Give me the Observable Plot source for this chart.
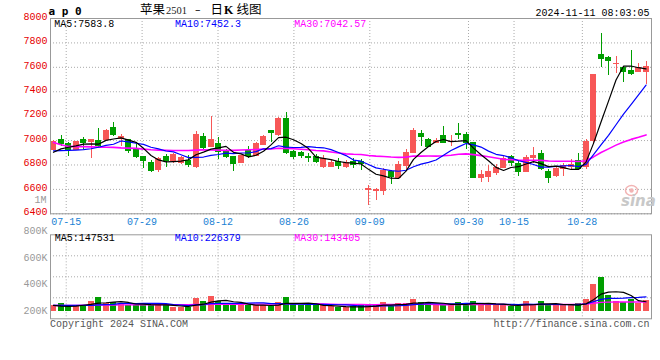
<!DOCTYPE html>
<html><head><meta charset="utf-8">
<script src="https://cdn.jsdelivr.net/npm/d3@7"></script>
<script src="https://cdn.jsdelivr.net/npm/@observablehq/plot@0.6"></script>
<style>
body{margin:0;background:#fff;}
#wrap{position:relative;width:660px;height:360px;overflow:hidden;background:#fff;}
#wrap svg{position:absolute;left:0;display:block;}
</style></head><body><div id="wrap"></div>
<script>
// ---- data ----
const opens = [6925,7005,6970,6924,7005,6989,7000,7005,7100,7016,
  7003,6924,6869,6817,6760,6863,6830,6814,6836,6781,
  7028,6945,6970,6915,6863,6820,6918,6877,6967,7082,
  7049,7180,6910,6896,6866,6869,6787,6787,6822,6787,
  6824,6824,6592,6588,6587,6740,6695,6795,6900,7057,
  7003,6978,7038,6986,7051,7046,6978,6690,6703,6733,
  6776,6864,6809,6744,6858,6888,6746,6711,6768,6782,
  6836,6787,6995,7701,7674,7625,7592,7570,7565,7565];
const highs = [7000,7045,6986,6995,7022,7005,7100,7088,7150,7050,
  7008,6965,6872,6836,6863,6883,6896,6870,6877,7074,
  7060,7200,7027,6925,6870,6880,6950,6986,7040,7085,
  7190,7230,6920,6912,6890,6885,6875,6836,6850,6836,
  6857,6843,6630,6605,6770,6755,6825,6930,7100,7080,
  7020,7019,7119,7038,7140,7070,6980,6757,6797,6800,
  6875,6875,6828,6880,6943,6915,6760,6787,6814,6842,
  6896,7005,7540,7878,7690,7687,7610,7734,7633,7646];
const lows = [6920,6951,6868,6920,6930,6852,6945,6995,7030,6950,
  6896,6855,6768,6739,6740,6781,6814,6805,6781,6775,
  6915,6940,6845,6850,6750,6810,6850,6870,6960,6986,
  7033,6885,6847,6855,6817,6810,6775,6780,6765,6775,
  6770,6757,6470,6508,6550,6640,6690,6760,6892,6951,
  6940,6973,6978,6951,7005,6924,6690,6660,6654,6714,
  6768,6787,6705,6735,6814,6755,6645,6700,6705,6765,
  6760,6765,6980,7600,7537,7546,7475,7529,7557,7456];
const closes = [6990,6970,6924,6989,6978,7005,6955,7082,7043,7027,
  6913,6863,6836,6748,6847,6830,6880,6855,6803,7049,
  6940,7003,6905,6865,6805,6877,6877,6973,7033,7062,
  7174,6896,6869,6875,6860,6822,6845,6820,6795,6814,
  6803,6808,6600,6595,6750,6705,6797,6900,7078,7032,
  6951,7000,6984,6992,7046,6978,6690,6714,6746,6773,
  6850,6814,6746,6855,6875,6765,6692,6768,6793,6798,
  6765,6992,7537,7668,7652,7630,7559,7546,7597,7605];
const volumesK = [89,125,89,89,73,156,218,125,140,104,
  94,99,115,104,89,89,62,62,62,203,
  156,229,156,99,99,104,89,89,89,73,
  140,214,99,89,89,89,89,73,53,53,
  73,89,89,89,136,73,120,120,183,136,
  125,89,89,89,136,120,151,89,120,89,
  104,73,73,151,104,151,89,89,89,89,
  120,183,420,520,245,151,136,175,115,160];
// moving-average values before the first visible day
const ma5Lead  = [6904,6932,6945,6956];
const ma10Lead = [6915,6918,6920,6922,6925,6933,6945,6960,6970];
const ma30Lead = [6985,6965,6952,6950,6950,6948,6946,6945,6944,6940,6938,6936,6930,6925,6922,
  6920,6919,6919,6919,6922,6924,6923,6922,6920,6920,6923,6925,6927,6930];
const vma5Lead  = [90,80,75,78];
const vma10Lead = [90,90,90,90,90,92,98,102,105];
const vma30Lead = [90,90,91,91,92,93,95,96,97,98,99,100,101,101,102,102,102,102,103,104,
  105,106,107,108,108,109,110,110,111];
const tickLabels = ["07-15","07-29","08-12","08-26","09-09","09-30","10-15","10-28"];
const tickIndex  = [2,12,22,32,42,55,61,70];
const priceTicks = [6400,6600,6800,7000,7200,7400,7600,7800,8000];
const volTickLabels = ["800K","600K","400K","200K"];
const volTickValues = [800000,600000,400000,200000];

// ---- build ----
const RED = "#f75757", GREEN = "#009e00";
const candles = closes.map((c, i) => ({i, open: opens[i], high: highs[i], low: lows[i], close: c,
  vol: volumesK[i] * 1000, color: c >= opens[i] ? RED : GREEN}));
function movingAvg(arr, n, lead) {
  return arr.map((_, i) => ({i, v: i >= n - 1 ? d3.mean(arr.slice(i - n + 1, i + 1)) : lead[i]}));
}
const ma5 = movingAvg(closes, 5, ma5Lead), ma10 = movingAvg(closes, 10, ma10Lead), ma30 = movingAvg(closes, 30, ma30Lead);
const vols = volumesK.map(v => v * 1000);
const k1000 = a => a.map(v => v * 1000);
const vma5 = movingAvg(vols, 5, k1000(vma5Lead)), vma10 = movingAvg(vols, 10, k1000(vma10Lead)), vma30 = movingAvg(vols, 30, k1000(vma30Lead));
// date grid lines sit on a slightly wider spacing than the candles in the original
const gridPos = idx => idx * 1.012 - 0.33;
const ticks = tickLabels.map((label, j) => ({label, x: gridPos(tickIndex[j])}));
const xDomain = [-0.4, 79.73];
const font = {fontFamily: "'Liberation Mono', monospace", fontSize: "10px", background: "transparent", overflow: "visible"};
const grid = {stroke: "#aaa", strokeDasharray: "1,2", strokeOpacity: 1};

const main = Plot.plot({
  width: 660, height: 226, marginLeft: 50, marginRight: 9, marginTop: 18, marginBottom: 12.7,
  x: {domain: xDomain, axis: null}, y: {domain: [6400, 8000], axis: null},
  color: {type: "identity"}, style: font,
  marks: [
    Plot.ruleY(priceTicks, grid),
    Plot.ruleX(ticks, {x: "x", ...grid}),
    Plot.ruleX(candles, {x: "i", y1: "low", y2: "high", stroke: "color", shapeRendering: "crispEdges"}),
    Plot.rect(candles, {x1: d => d.i - 0.4, x2: d => d.i + 0.4, y1: "open", y2: "close", fill: "color",
      insetTop: -0.5, insetBottom: -0.5, shapeRendering: "crispEdges"}),
    Plot.line(ma30, {x: "i", y: "v", stroke: "#ff00ff", strokeWidth: 1.6}),
    Plot.line(ma10, {x: "i", y: "v", stroke: "#0000ff", strokeWidth: 1.2}),
    Plot.line(ma5, {x: "i", y: "v", stroke: "#000", strokeWidth: 1.2}),
    Plot.frame({stroke: "#999"}),
    Plot.axisY(priceTicks, {tickSize: 0, tickPadding: 3, color: "#e60000", dy: -2, tickFormat: d => String(d)}),
    Plot.text(ticks, {x: "x", y: 6400, text: "label", dy: 8, fill: "#1a82d4"})
  ]
});

// volume panel: bars rise from zero; grid splits the panel in quarters
const volHi = 1191840, volLo = -118560;
const volGrid = [1, 2, 3].map(q => volLo + q * (volHi - volLo) / 4);
const volLabelPos = d3.scaleLinear().domain([200000, 800000]).range([10900, 1248000]);
const volLabels = volTickLabels.map((label, j) => ({label, y: volLabelPos(volTickValues[j])}));
const vol = Plot.plot({
  width: 660, height: 134, marginLeft: 50, marginRight: 9, marginTop: 8.3, marginBottom: 41.7,
  x: {domain: xDomain, axis: null}, y: {domain: [volLo, volHi], axis: null},
  color: {type: "identity"}, style: font,
  marks: [
    Plot.ruleY(volGrid, grid),
    Plot.ruleX(ticks, {x: "x", ...grid}),
    Plot.rect(candles, {x1: d => d.i - 0.4, x2: d => d.i + 0.4, y1: 0, y2: "vol", fill: "color", shapeRendering: "crispEdges"}),
    Plot.line(vma30, {x: "i", y: "v", stroke: "#ff00ff", strokeWidth: 1.4}),
    Plot.line(vma10, {x: "i", y: "v", stroke: "#0000ff", strokeWidth: 1.2}),
    Plot.line(vma5, {x: "i", y: "v", stroke: "#000", strokeWidth: 1.2}),
    Plot.frame({stroke: "#999"}),
    Plot.text(volLabels, {y: "y", text: "label", frameAnchor: "left", textAnchor: "end", dx: -3, fill: "#999"})
  ]
});

const wrap = document.getElementById("wrap");
main.style.top = "0px";
vol.style.top = "226px";
wrap.append(main, vol);

// ---- texts (title, legends, footer) ----
const ns = "http://www.w3.org/2000/svg";
const ov = document.createElementNS(ns, "svg");
ov.setAttribute("width", 660); ov.setAttribute("height", 360);
ov.style.top = "0px"; ov.style.pointerEvents = "none";
wrap.append(ov);
const MONO = "'Liberation Mono', monospace";
function txt(s, x, y, o = {}) {
  const t = document.createElementNS(ns, "text");
  t.textContent = s;
  t.setAttribute("x", x); t.setAttribute("y", y);
  t.setAttribute("font-family", o.family || MONO);
  t.setAttribute("font-size", o.size || 10);
  t.setAttribute("fill", o.fill || "#000");
  if (o.anchor) t.setAttribute("text-anchor", o.anchor);
  if (o.weight) t.setAttribute("font-weight", o.weight);
  if (o.style) t.setAttribute("font-style", o.style);
  ov.append(t);
  return t;
}
txt("a p 0", 48.5, 15, {family: "'DejaVu Sans Mono', monospace", size: 11, weight: "bold"});
const CJK = "'Noto Sans CJK SC', sans-serif";
txt("苹果", 140, 13.5, {family: CJK, size: 12.5});
txt("2501", 166, 13.5, {family: "'Liberation Serif', serif", size: 10.5, fill: "#222"});
txt("–", 195, 13, {family: "'DejaVu Sans', sans-serif", size: 11});
txt("日", 210.5, 13.5, {family: CJK, size: 12.5});
txt("K", 224, 13.5, {family: "'Liberation Serif', serif", size: 12, weight: "bold"});
txt("线图", 236.5, 13.5, {family: CJK, size: 12.5});
txt("2024-11-11 08:03:05", 649.5, 15.7, {anchor: "end"});
txt("MA5:7583.8", 54.3, 26.7);
txt("MA10:7452.3", 175, 26.7, {fill: "#0000ff"});
txt("MA30:7042.57", 294.3, 26.7, {fill: "#ff00ff"});
txt("MA5:147531", 54.7, 240.7);
txt("MA10:226379", 174.7, 240.7, {fill: "#0000ff"});
txt("MA30:143405", 294.3, 240.7, {fill: "#ff00ff"});
txt("1M", 46.5, 203.3, {anchor: "end", fill: "#999"});
txt("Copyright 2024 SINA.COM", 50, 326.7, {fill: "#555"});
txt("http://finance.sina.com.cn", 649.5, 326.7, {anchor: "end", fill: "#555"});
// sina watermark
const eye = document.createElementNS(ns, "ellipse");
eye.setAttribute("cx", 631.5); eye.setAttribute("cy", 190.5); eye.setAttribute("rx", 6); eye.setAttribute("ry", 5);
eye.setAttribute("fill", "none"); eye.setAttribute("stroke", "#f2b4b4"); eye.setAttribute("stroke-width", 1.5);
ov.append(eye);
const pupil = document.createElementNS(ns, "circle");
pupil.setAttribute("cx", 631.5); pupil.setAttribute("cy", 190.5); pupil.setAttribute("r", 2.2); pupil.setAttribute("fill", "#f2b4b4");
ov.append(pupil);
txt("sina", 621, 206, {family: "'DejaVu Sans', sans-serif", size: 15, weight: "bold", style: "italic", fill: "#c8c8c8"});
</script></body></html>
